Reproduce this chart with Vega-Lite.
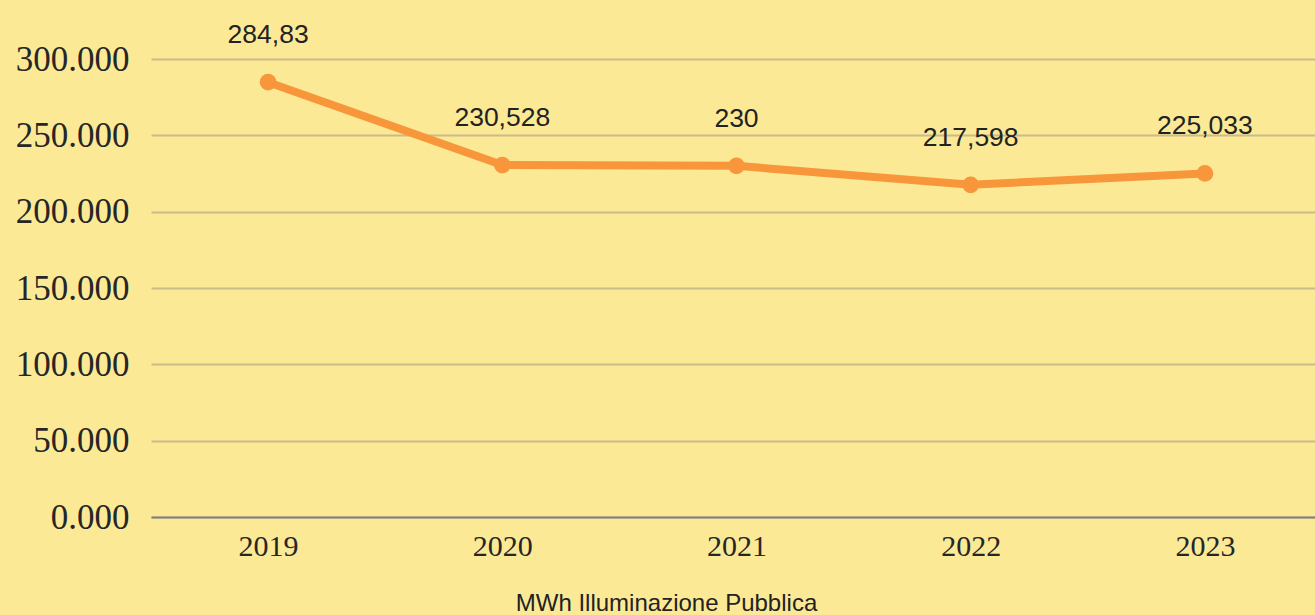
{
  "$schema": "https://vega.github.io/schema/vega-lite/v6.json",
  "width": 1171,
  "height": 458,
  "autosize": {"type": "none"},
  "padding": {"left": 151, "top": 59, "right": 0, "bottom": 98},
  "background": "#FCE996",
  "config": {"view": {"stroke": null}},
  "data": {"values": [
    {"anno": "2019", "mwh": 284.83, "label": "284,83"},
    {"anno": "2020", "mwh": 230.528, "label": "230,528"},
    {"anno": "2021", "mwh": 230, "label": "230"},
    {"anno": "2022", "mwh": 217.598, "label": "217,598"},
    {"anno": "2023", "mwh": 225.033, "label": "225,033"}
  ]},
  "encoding": {
    "x": {"field": "anno", "type": "ordinal", "scale": {"type": "point", "padding": 0.5},
      "axis": {"title": "MWh Illuminazione Pubblica", "titleFont": "Liberation Sans", "titleFontSize": 24, "titleFontWeight": "normal", "titleColor": "#222222", "titleX": 515, "titleY": 98, "titleAnchor": "middle", "titleBaseline": "bottom",
        "labelAngle": 0, "labelFont": "Liberation Serif", "labelFontSize": 30, "labelColor": "#262626", "labelPadding": 14, "ticks": false, "domainColor": "#808080", "domainWidth": 2, "grid": false}},
    "y": {"field": "mwh", "type": "quantitative", "scale": {"domain": [0, 300]},
      "axis": {"title": null, "values": [0, 50, 100, 150, 200, 250, 300], "labelExpr": "format(datum.value, '.3f')", "labelFont": "Liberation Serif", "labelFontSize": 35, "labelColor": "#262626", "labelPadding": 22, "ticks": false, "domain": false, "grid": true, "gridColor": "#C9BC88", "gridWidth": 2}}
  },
  "layer": [
    {"mark": {"type": "line", "color": "#F7963A", "strokeWidth": 8}},
    {"mark": {"type": "point", "filled": true, "opacity": 1, "color": "#F7963A", "size": 280}},
    {"mark": {"type": "text", "font": "Liberation Sans", "fontSize": 26.5, "color": "#222222", "dy": -47}, "encoding": {"text": {"field": "label"}}}
  ]
}
